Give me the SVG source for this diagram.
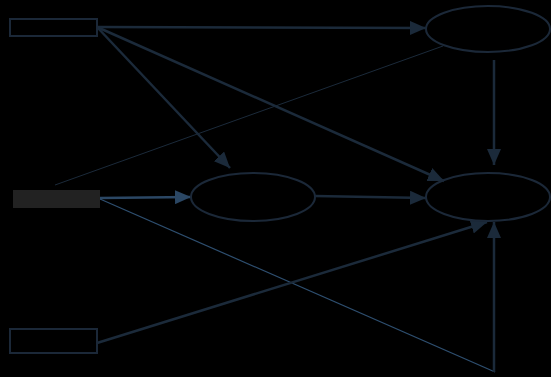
<svg xmlns="http://www.w3.org/2000/svg" width="551" height="377" viewBox="0 0 551 377">
<defs>
<style>
.node{fill:none;stroke:#1b2838;stroke-width:2}
.c{fill:none;stroke:#1b2a3a;stroke-width:2.5}
.cb{fill:none;stroke:#2b4764;stroke-width:2.5}
.t{fill:none;stroke:#1b2a3a;stroke-width:1}
.tb{fill:none;stroke:#2e4f70;stroke-width:1.2}
</style>
<marker id="a" viewBox="0 0 16 14" refX="16" refY="7" markerWidth="16" markerHeight="14" markerUnits="userSpaceOnUse" orient="auto"><path d="M0,0 L16,7 L0,14 Z" fill="#1b2a3a"/></marker>
<marker id="ab" viewBox="0 0 16 14" refX="16" refY="7" markerWidth="16" markerHeight="14" markerUnits="userSpaceOnUse" orient="auto"><path d="M0,0 L16,7 L0,14 Z" fill="#2b4764"/></marker>
</defs>
<rect width="551" height="377" fill="#000"/>
<g id="connectors">
<line class="c" x1="97" y1="27" x2="426" y2="28" marker-end="url(#a)"/>
<line class="c" x1="97" y1="27" x2="230" y2="168" marker-end="url(#a)"/>
<line class="c" x1="97" y1="27" x2="444" y2="181" marker-end="url(#a)"/>
<line class="c" x1="494" y1="60" x2="494" y2="165" marker-end="url(#a)"/>
<line class="t" x1="55" y1="185" x2="443" y2="46"/>
<line class="cb" x1="100" y1="198" x2="191" y2="197" marker-end="url(#ab)"/>
<line class="c" x1="315" y1="196" x2="426" y2="198" marker-end="url(#a)"/>
<line class="tb" x1="100" y1="199" x2="495" y2="372"/>
<line class="c" x1="494" y1="372" x2="494" y2="222" marker-end="url(#a)"/>
<line class="c" x1="97" y1="343" x2="487" y2="222" marker-end="url(#a)"/>
</g>
<g id="box1"><rect class="node" x="10" y="19" width="87" height="17"/></g>
<g id="box2"><rect x="13" y="190" width="87" height="18" fill="#222"/></g>
<g id="box3"><rect class="node" x="10" y="329" width="87" height="24"/></g>
<g id="ellipseTop"><ellipse class="node" cx="488" cy="29" rx="62" ry="23"/></g>
<g id="ellipseMid"><ellipse class="node" cx="253" cy="197" rx="62" ry="24"/></g>
<g id="ellipseRight"><ellipse class="node" cx="488" cy="197" rx="62" ry="24"/></g>
</svg>
